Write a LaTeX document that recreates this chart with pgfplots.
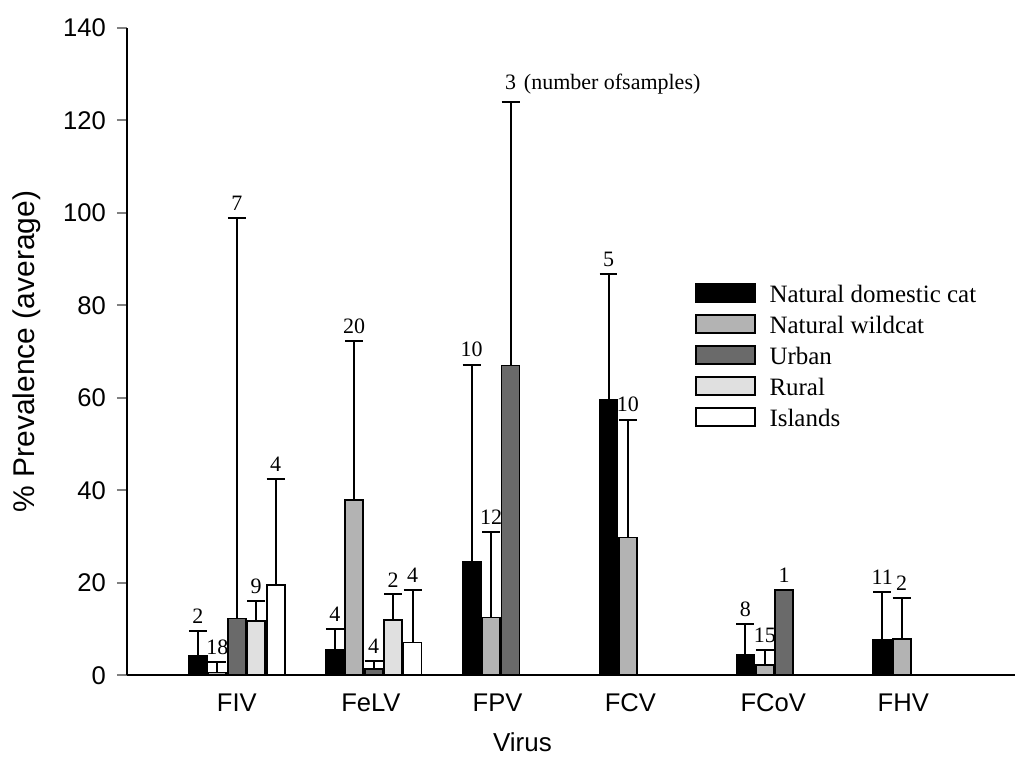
\documentclass[border=0pt]{standalone}
\usepackage{fontspec}
\setmainfont{Liberation Sans}
\newfontfamily\serif{Liberation Serif}
\usepackage{pgfplots}
\pgfplotsset{compat=1.18}

\definecolor{domcat}{HTML}{000000}
\definecolor{wildcat}{HTML}{B3B3B3}
\definecolor{urban}{HTML}{6A6A6A}
\definecolor{rural}{HTML}{E0E0E0}
\definecolor{islands}{HTML}{FFFFFF}

\pgfplotsset{
  barstyle/.style={ybar, bar width=0.131, bar shift=0pt, draw=black, line width=0.9pt,
    error bars/y dir=plus, error bars/y explicit,
    error bars/error bar style={black, line width=1pt},
    error bars/error mark options={black, line width=1pt, mark size=4.5pt, rotate=90}},
}

\begin{document}
\begin{tikzpicture}
\begin{axis}[
    at={(0pt,0pt)}, anchor=south west,
    scale only axis, width=444.5pt, height=324pt,
    xmin=-0.803, xmax=5.686, ymin=0, ymax=140,
    axis x line*=bottom, axis y line*=left,
    axis line style={line width=1pt},
    ytick={0,20,...,140},
    xtick={0,0.98,1.905,2.876,3.92,4.87},
    xticklabels={FIV,FeLV,FPV,FCV,FCoV,FHV},
    xtick style={draw=none},
    tick align=outside, major tick length=5pt,
    ytick style={line width=1pt},
    /pgf/number format/assume math mode=true,
    tick label style={font=\fontsize{12.8}{14}\selectfont},
    xticklabel style={text height=9.5pt, text depth=2pt, yshift=0pt},
    yticklabel style={xshift=-2pt},
    xlabel={Virus}, ylabel={\% Prevalence (average)},
    xlabel style={at={(axis description cs:0.4454,-0.104)}, anchor=center, font=\fontsize{13}{15}\selectfont},
    ylabel style={at={(axis description cs:-0.1125,0.5)}, anchor=center, font=\fontsize{15}{17}\selectfont},
    legend image code/.code={\draw[#1] (0pt,-2.5pt) rectangle (29.5pt,6.5pt);},
    legend style={at={(axis description cs:0.639,0.607)}, anchor=north west,
      draw=none, fill=none, inner sep=0pt, row sep=2.6pt,
      font=\serif\fontsize{12.5}{14}\selectfont,
      nodes={inner sep=0pt, text height=9pt, text depth=3pt},
      /tikz/every odd column/.append style={column sep=7pt}},
    legend cell align=left,
    nodes near coords style={font=\serif\fontsize{11}{13}\selectfont, anchor=south, inner sep=0pt, yshift=3.5pt},
]
% Natural domestic cat
\addplot[barstyle, fill=domcat] coordinates {
  (-0.284,4.1) +- (0,5.5)
  (0.716,5.6) +- (0,4.5)
  (1.716,24.6) +- (0,42.6)
  (2.716,59.6) +- (0,27.2)
  (3.716,4.4) +- (0,6.6)
  (4.716,7.6) +- (0,10.5)};
% Natural wildcat
\addplot[barstyle, fill=wildcat] coordinates {
  (-0.142,0.6) +- (0,2.3)
  (0.858,38.0) +- (0,34.3)
  (1.858,12.5) +- (0,18.6)
  (2.858,29.8) +- (0,25.5)
  (3.858,2.2) +- (0,3.3)
  (4.858,7.8) +- (0,8.9)};
% Urban
\addplot[barstyle, fill=urban] coordinates {
  (0,12.3) +- (0,86.6)
  (1,1.3) +- (0,1.8)
  (2,67.0) +- (0,57.0)
  (4,18.4) +- (0,0)};
% Rural
\addplot[barstyle, fill=rural] coordinates {
  (0.142,11.7) +- (0,4.3)
  (1.142,11.9) +- (0,5.6)};
% Islands
\addplot[barstyle, fill=islands] coordinates {
  (0.284,19.6) +- (0,22.9)
  (1.284,7.1) +- (0,11.3)};
\legend{Natural domestic cat,Natural wildcat,Urban,Rural,Islands}
% number of samples, placed at the top of each error bar
\addplot[draw=none, forget plot, nodes near coords, point meta=explicit symbolic] coordinates {
  (-0.284,9.6) [2] (-0.142,2.9) [18] (0,98.9) [7] (0.142,16.0) [9] (0.284,42.5) [4]
  (0.716,10.1) [4] (0.858,72.3) [20] (1,3.1) [4] (1.142,17.5) [2] (1.284,18.4) [4]
  (1.716,67.2) [10] (1.858,31.1) [12] (2,124.0) [3\rlap{\hspace{4pt}(number ofsamples)}]
  (2.716,86.8) [5] (2.858,55.3) [10]
  (3.716,11.0) [8] (3.858,5.5) [15] (4,18.4) [1]
  (4.716,18.1) [11] (4.858,16.7) [2]};
\end{axis}
\path (-63.5pt,-40pt) rectangle (444.5pt,338pt);
\end{tikzpicture}
\end{document}
